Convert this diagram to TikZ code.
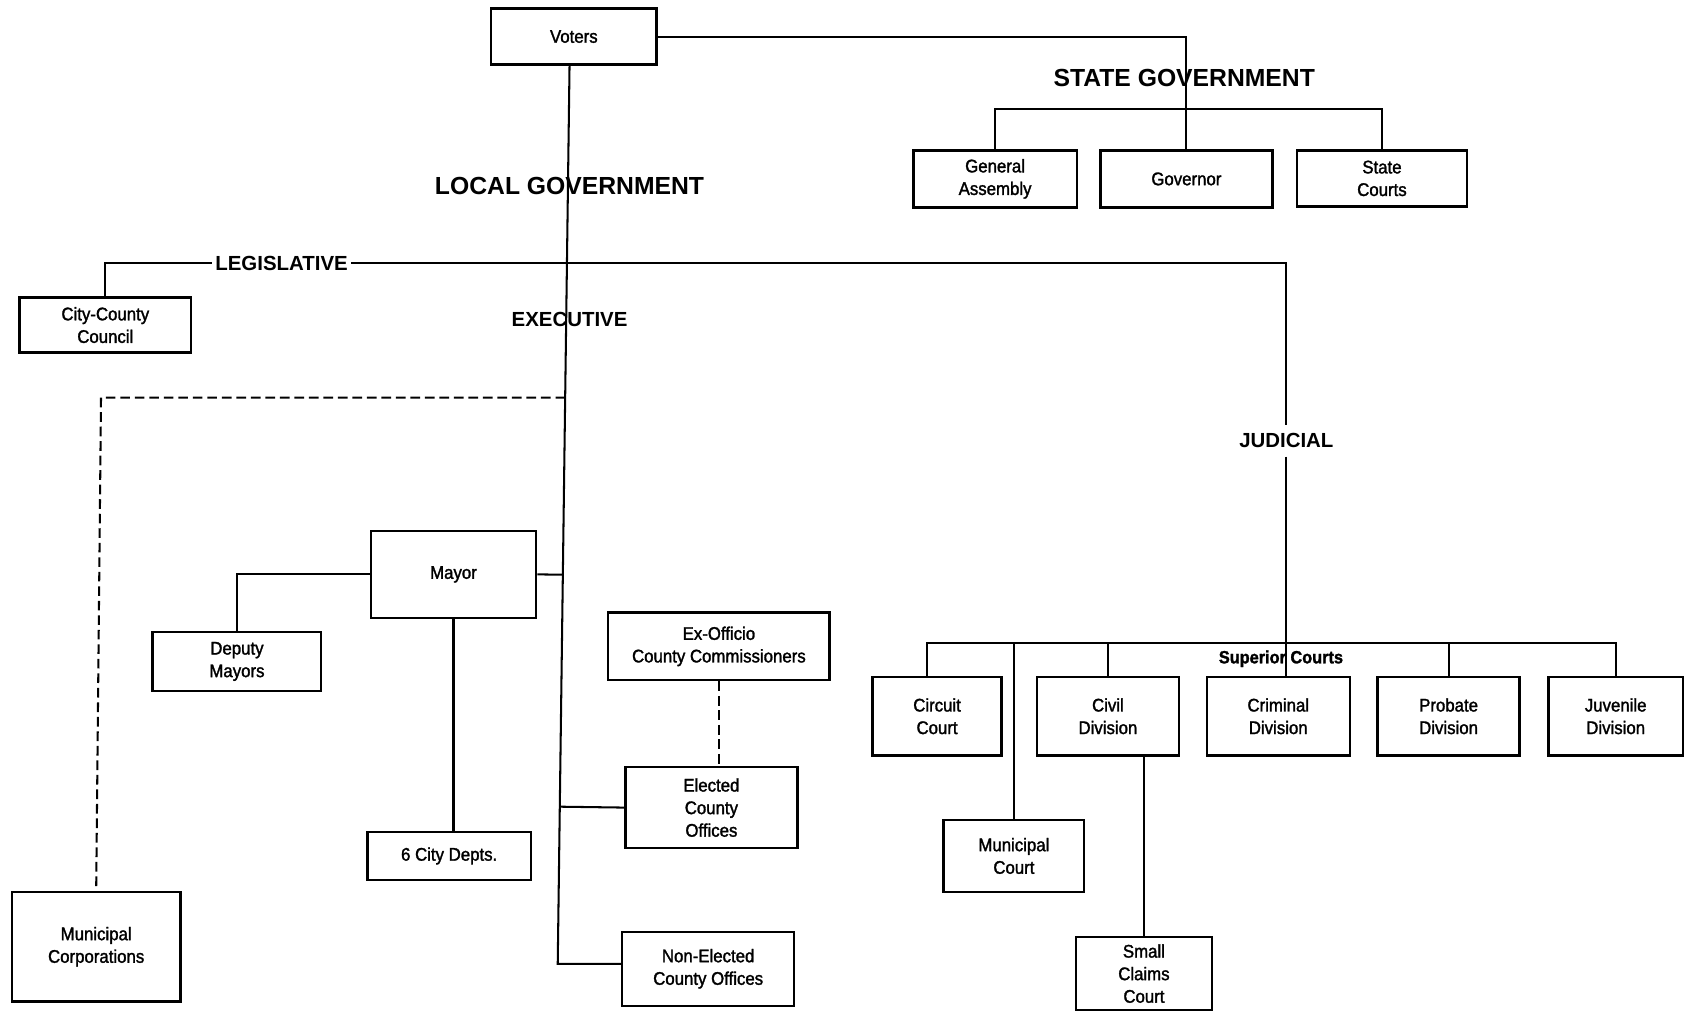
\documentclass[tikz,border=0pt]{standalone}
\usepackage{fontspec}
\setmainfont{Liberation Sans}
\newfontfamily\condfont{Liberation Sans}[FakeStretch=0.92, FakeBold=1.6]
\usetikzlibrary{calc}
\newcommand\boxfont{\condfont\fontsize{17}{21}\selectfont}
\begin{document}
\begin{tikzpicture}[x=1pt,y=-1pt,
  box/.style={draw, line width=2.2pt, inner sep=0pt, align=center, font=\boxfont},
  head/.style={font=\bfseries\fontsize{23}{26}\selectfont, inner sep=1pt},
  branch/.style={font=\bfseries\fontsize{19}{22}\selectfont},
  subhead/.style={font=\condfont\bfseries\fontsize{16.5}{19}\selectfont, inner sep=1pt},
  conn/.style={line width=1.9pt},
  dashconn/.style={line width=1.9pt, dash pattern=on 9pt off 4.5pt}]
\fill[white] (0,0) rectangle (1568,943);
\useasboundingbox (0,0) rectangle (1568,943);

% boxes
\node[box,minimum width=154,minimum height=52] (voters) at (534,34) {Voters};
\node[box,minimum width=152,minimum height=53] (assembly) at (926,166.5) {General\\Assembly};
\node[box,minimum width=160,minimum height=53] (governor) at (1104,166.5) {Governor};
\node[box,minimum width=158,minimum height=52] (statecourts) at (1286,166) {State\\Courts};
\node[box,minimum width=160,minimum height=51] (council) at (98,302.5) {City-County\\Council};
\node[box,minimum width=157,minimum height=102] (muncorp) at (89.5,881) {Municipal\\Corporations};
\node[box,minimum width=154,minimum height=81] (mayor) at (422,534.5) {Mayor};
\node[box,minimum width=157,minimum height=55] (deputy) at (220.5,615.5) {Deputy\\Mayors};
\node[box,minimum width=152,minimum height=45] (depts) at (418,796.5) {6 City Depts.};
\node[box,minimum width=206,minimum height=63] (exofficio) at (669,601.5) {Ex-Officio\\County Commissioners};
\node[box,minimum width=160,minimum height=75] (elected) at (662,751.5) {Elected\\County\\Offices};
\node[box,minimum width=160,minimum height=69] (nonelected) at (659,901.5) {Non-Elected\\County Offices};
\node[box,minimum width=120,minimum height=73] (circuit) at (872,666.5) {Circuit\\Court};
\node[box,minimum width=132,minimum height=73] (civil) at (1031,666.5) {Civil\\Division};
\node[box,minimum width=133,minimum height=73] (criminal) at (1189.5,666.5) {Criminal\\Division};
\node[box,minimum width=132,minimum height=73] (probate) at (1348,666.5) {Probate\\Division};
\node[box,minimum width=125,minimum height=73] (juvenile) at (1503.5,666.5) {Juvenile\\Division};
\node[box,minimum width=131,minimum height=67] (muncourt) at (943.5,796.5) {Municipal\\Court};
\node[box,minimum width=127,minimum height=68] (smallclaims) at (1064.5,906) {Small\\Claims\\Court};

% labels that interrupt lines
\node[branch, fill=white, inner xsep=3pt, inner ysep=1pt] (legis) at (262,245) {LEGISLATIVE};
\node[branch, fill=white, inner xsep=2pt, inner ysep=8pt] (judicial) at (1197,410) {JUDICIAL};

% junction coordinates
\coordinate (ttop) at (530,60);
\coordinate (tbot) at (519,897);
\coordinate (sg) at (1104,101);
\coordinate (dc) at (94,370);
\coordinate (sbl) at (863,598);
\coordinate (sbr) at (1503.5,598);

% connectors
\draw[conn] (voters.east) -| (governor.north);
\draw[conn] (assembly.north) |- (sg) -| (statecourts.north);
\draw[conn] (ttop) -- (tbot) -- (tbot -| nonelected.west);
\draw[conn] (council.north) |- (legis.west);
\draw[conn] (legis.east) -| (judicial.north);
\draw[conn] (judicial.south) -- (judicial.south |- criminal.north);
\draw[conn] (sbl |- circuit.north) -- (sbl) -- (sbr) -- (juvenile.north);
\draw[conn] (muncourt.north) -- (muncourt.north |- sbl);
\draw[conn] (civil.north) -- (civil.north |- sbl);
\draw[conn] (probate.north) -- (probate.north |- sbl);
\draw[conn] (smallclaims.north) -- (smallclaims.north |- civil.south);
\draw[conn] (mayor.east) -- ($(ttop)!(mayor.east)!(tbot)$);
\draw[conn] (mayor.west) -| (deputy.north);
\draw[conn] (mayor.south) -- (mayor.south |- depts.north);
\draw[conn] ($(ttop)!(elected.west)!(tbot)$) -- (elected.west);
\draw[dashconn] (exofficio.south) -- (exofficio.south |- elected.north);
\draw[dashconn] ($(ttop)!0.3704!(tbot)$) -- (dc) -- (muncorp.north);

% labels over lines
\node[head] (stategov) at (1102,73) {STATE GOVERNMENT};
\node[head] (localgov) at (530,173) {LOCAL GOVERNMENT};
\node[branch] (exec) at (530,297) {EXECUTIVE};
\node[subhead] (superior) at (1192,613) {Superior Courts};
\end{tikzpicture}
\end{document}
